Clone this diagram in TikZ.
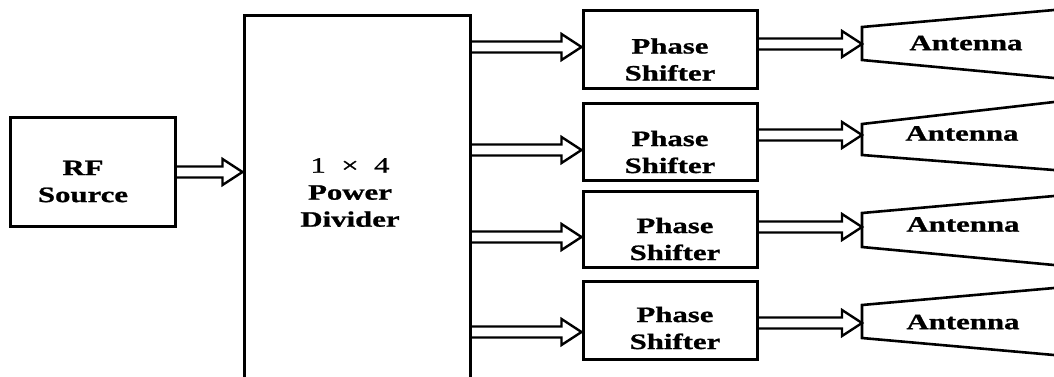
\documentclass[tikz,border=0pt]{standalone}
\usepackage{fontspec}
\setmainfont{Liberation Serif}
\newfontfamily\lblfont{Liberation Serif}[FakeStretch=1.4, FakeBold=1]
\usetikzlibrary{calc}
\begin{document}
\begin{tikzpicture}[x=1pt,y=-1pt,
  box/.style={draw, line width=3pt, inner sep=0pt, rectangle},
  lbl/.style={inner sep=0pt, align=center, font=\lblfont\bfseries\fontsize{22}{27}\selectfont},
  antline/.style={line width=2.6pt, line join=miter},
  fat/.style={line width=2.4pt, line join=miter, to path={let \p1=(\tikztostart), \p2=(\tikztotarget) in
    (\x1,\y2+5.5pt) -- (\x2-20pt,\y2+5.5pt) -- (\x2-20pt,\y2+13pt) -- (\x2,\y2) -- (\x2-20pt,\y2-13pt) -- (\x2-20pt,\y2-5.5pt) -- (\x1,\y2-5.5pt)}}]
\useasboundingbox (0,0) rectangle (1054,376);

% boxes
\node[box, minimum width=165pt, minimum height=109pt] (rf) at (92.5,171.5) {};
\node[box, minimum width=226pt, minimum height=375pt] (div) at (357,202.5) {};
\node[box, minimum width=174pt, minimum height=78pt] (ps1) at (670,49) {};
\node[box, minimum width=174pt, minimum height=77pt] (ps2) at (670,141.5) {};
\node[box, minimum width=174pt, minimum height=76pt] (ps3) at (670,229) {};
\node[box, minimum width=174pt, minimum height=78pt] (ps4) at (670,320) {};

% labels
\node[lbl] (rft) at (83,181.5) {RF\\Source};
\node[lbl] (divt) at (350,192.5) {{\mdseries 1\ \ \texttimes\ \ 4}\\Power\\Divider};
\node[lbl] (ps1t) at (670,59.5) {Phase\\Shifter};
\node[lbl] (ps2t) at (670,152) {Phase\\Shifter};
\node[lbl] (ps3t) at (675,239) {Phase\\Shifter};
\node[lbl] (ps4t) at (675,328) {Phase\\Shifter};

% antennas
\draw[antline] (1054,10) -- (862,27) -- (862,60) -- (1054,78);
\draw[antline] (1054,102) -- (862,124) -- (862,155) -- (1054,170);
\draw[antline] (1054,196) -- (862,213) -- (862,247) -- (1054,265);
\draw[antline] (1054,288) -- (862,305) -- (862,338) -- (1054,355);
\node[lbl] (an1t) at (966,43) {Antenna};
\node[lbl] (an2t) at (962,133.5) {Antenna};
\node[lbl] (an3t) at (963,224.5) {Antenna};
\node[lbl] (an4t) at (963,322) {Antenna};
\coordinate (an1) at (862,44);
\coordinate (an2) at (862,135);
\coordinate (an3) at (862,227);
\coordinate (an4) at (862,323);

% connectors
\coordinate (rfo) at (rf.east |- 0,172);
\draw[fat] (rfo) to (div.west |- rfo);
\coordinate (d1) at (div.east |- 0,47);
\coordinate (d2) at (div.east |- 0,150);
\coordinate (d3) at (div.east |- 0,237);
\coordinate (d4) at (div.east |- 0,332);
\draw[fat] (d1) to (ps1.west |- d1);
\draw[fat] (d2) to (ps2.west |- d2);
\draw[fat] (d3) to (ps3.west |- d3);
\draw[fat] (d4) to (ps4.west |- d4);
\draw[fat] (ps1.east |- an1) to (an1);
\draw[fat] (ps2.east |- an2) to (an2);
\draw[fat] (ps3.east |- an3) to (an3);
\draw[fat] (ps4.east |- an4) to (an4);
\end{tikzpicture}
\end{document}
